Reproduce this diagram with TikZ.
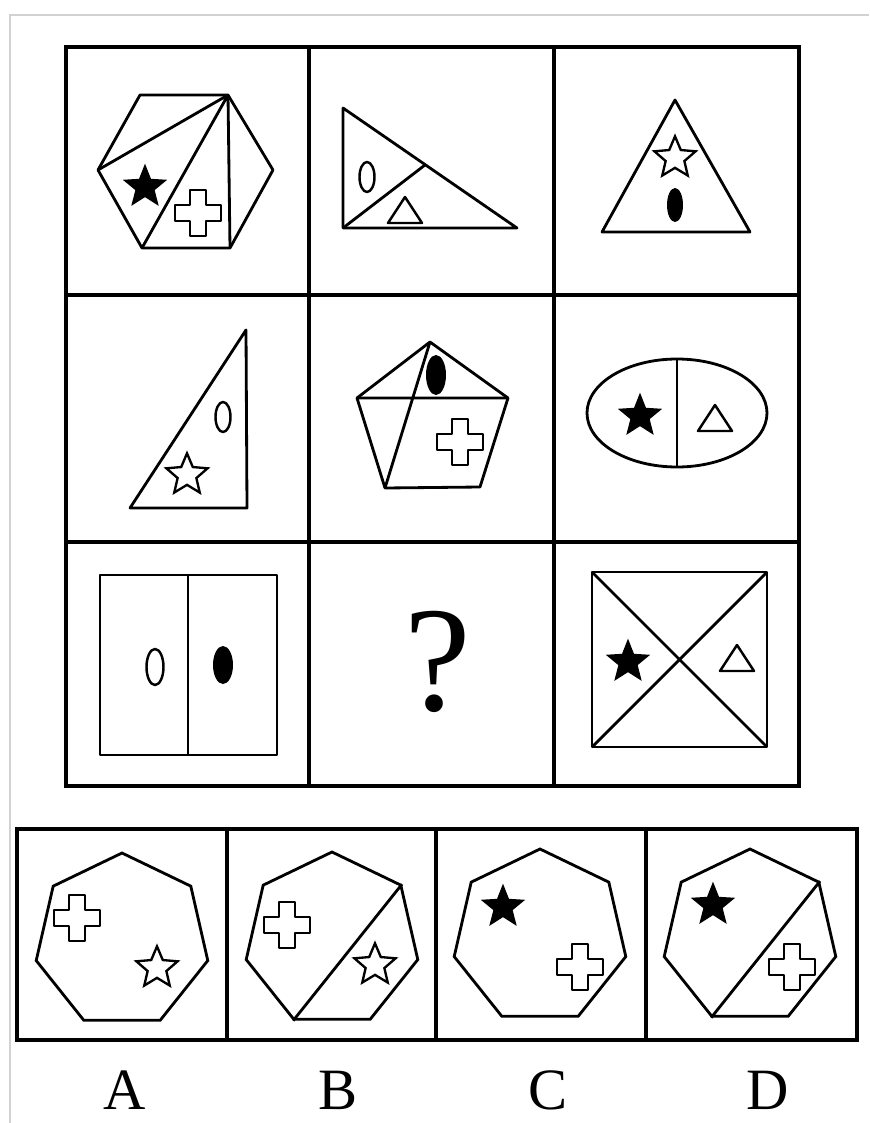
\documentclass[tikz,border=0pt]{standalone}
\usepackage{fontspec}
\setmainfont{Liberation Serif}
\usetikzlibrary{shapes.geometric}
\tikzset{
  frame/.style={line width=2.8pt},
  fig/.style={line width=2.4pt, line join=round},
  sym/.style={line width=2.1pt, line join=round},
  blackstar/.style={star, star points=5, star point ratio=2.3, fill=black, inner sep=0pt, minimum size=1.4cm},
  whitestar/.style={star, star points=5, star point ratio=2.2, draw, line width=2pt, fill=white, inner sep=0pt, minimum size=1.3cm},
  hepta/.style={regular polygon, regular polygon sides=7, draw, line width=2.4pt, inner sep=0pt, minimum size=5.28cm},
  plus/.pic={\draw[sym, fill=white] (-8,-23) -- (8,-23) -- (8,-8) -- (23,-8) -- (23,8) -- (8,8) -- (8,23) -- (-8,23) -- (-8,8) -- (-23,8) -- (-23,-8) -- (-8,-8) -- cycle;},
  tri/.pic={\draw[sym] (-17,13) -- (17,13) -- (0,-13) -- cycle;}
}
\begin{document}
\begin{tikzpicture}[x=0.03cm, y=-0.03cm]
\useasboundingbox (0,0) rectangle (869,1123);
\draw[gray!35, line width=1.2pt] (10,1123) -- (10,15) -- (869,15);
% the 3x3 grid
\draw[frame] (66,47) rectangle (799,786);
\draw[frame] (309,47) -- (309,786) (554,47) -- (554,786);
\draw[frame] (66,295) -- (799,295) (66,542) -- (799,542);
% row 1
\draw[fig] (140,95) -- (228,95) -- (273,170) -- (230,248) -- (142,248) -- (98,170) -- cycle;
\draw[fig] (228,95) -- (98,170) (228,95) -- (142,248) (228,95) -- (230,248);
\node[blackstar] (st1) at (145,187) {};
\pic at (198,213) {plus};
\draw[fig] (343,108) -- (343,228) -- (517,228) -- cycle;
\draw[fig] (343,228) -- (425,165);
\draw[sym] (367,177) ellipse [x radius=7.5, y radius=15];
\pic at (405,210) {tri};
\draw[fig] (675,100) -- (750,232) -- (602,232) -- cycle;
\node[whitestar] (st3) at (675,158) {};
\fill (675,205) ellipse [x radius=8, y radius=17];
% row 2
\draw[fig] (246,330) -- (247,508) -- (130,508) -- cycle;
\draw[sym] (223,417) ellipse [x radius=7.5, y radius=15];
\node[whitestar] (st4) at (187,475) {};
\draw[fig] (430,342) -- (508,398) -- (480,487) -- (385,488) -- (357,398) -- cycle;
\draw[fig] (357,398) -- (508,398) (430,342) -- (385,488);
\fill (436,375) ellipse [x radius=10, y radius=20];
\pic at (460,442) {plus};
\draw[fig] (677,413) ellipse [x radius=90, y radius=54];
\draw[fig] (677,359) -- (677,467);
\node[blackstar] (st6) at (640,416) {};
\pic at (715,418) {tri};
% row 3
\draw[fig] (100,575) rectangle (277,755);
\draw[fig] (188,575) -- (188,755);
\draw[sym] (155,667) ellipse [x radius=8.5, y radius=18];
\fill (223,665) ellipse [x radius=10, y radius=19];
\node[inner sep=0pt, font=\fontsize{128}{130}\selectfont] (qm) at (438,662) {?};
\draw[fig] (592,572) rectangle (767,747);
\draw[fig] (592,572) -- (767,747) (592,747) -- (767,572);
\node[blackstar] (st9) at (628,662) {};
\pic at (737,658) {tri};
% answers
\draw[frame] (17,829) rectangle (857,1040);
\draw[frame] (227,829) -- (227,1040) (436,829) -- (436,1040) (646,829) -- (646,1040);
\node[hepta] (ha) at (122,941) {};
\pic at (77,918) {plus};
\node[whitestar] (sa) at (157,968) {};
\node[hepta] (hb) at (332,940) {};
\draw[fig] (hb.corner 7) -- (hb.corner 4);
\pic at (287,925) {plus};
\node[whitestar] (sb) at (375,965) {};
\node[hepta] (hc) at (540,937) {};
\node[blackstar] (sc) at (503,907) {};
\pic at (580,967) {plus};
\node[hepta] (hd) at (750,937) {};
\draw[fig] (hd.corner 7) -- (hd.corner 4);
\node[blackstar] (sd) at (713,905) {};
\pic at (792,967) {plus};
\node[inner sep=0pt, font=\fontsize{50}{52}\selectfont] (la) at (125,1090) {A};
\node[inner sep=0pt, font=\fontsize{50}{52}\selectfont] (lb) at (338,1090) {B};
\node[inner sep=0pt, font=\fontsize{50}{52}\selectfont] (lc) at (548,1090) {C};
\node[inner sep=0pt, font=\fontsize{50}{52}\selectfont] (ld) at (768,1090) {D};
\end{tikzpicture}
\end{document}
